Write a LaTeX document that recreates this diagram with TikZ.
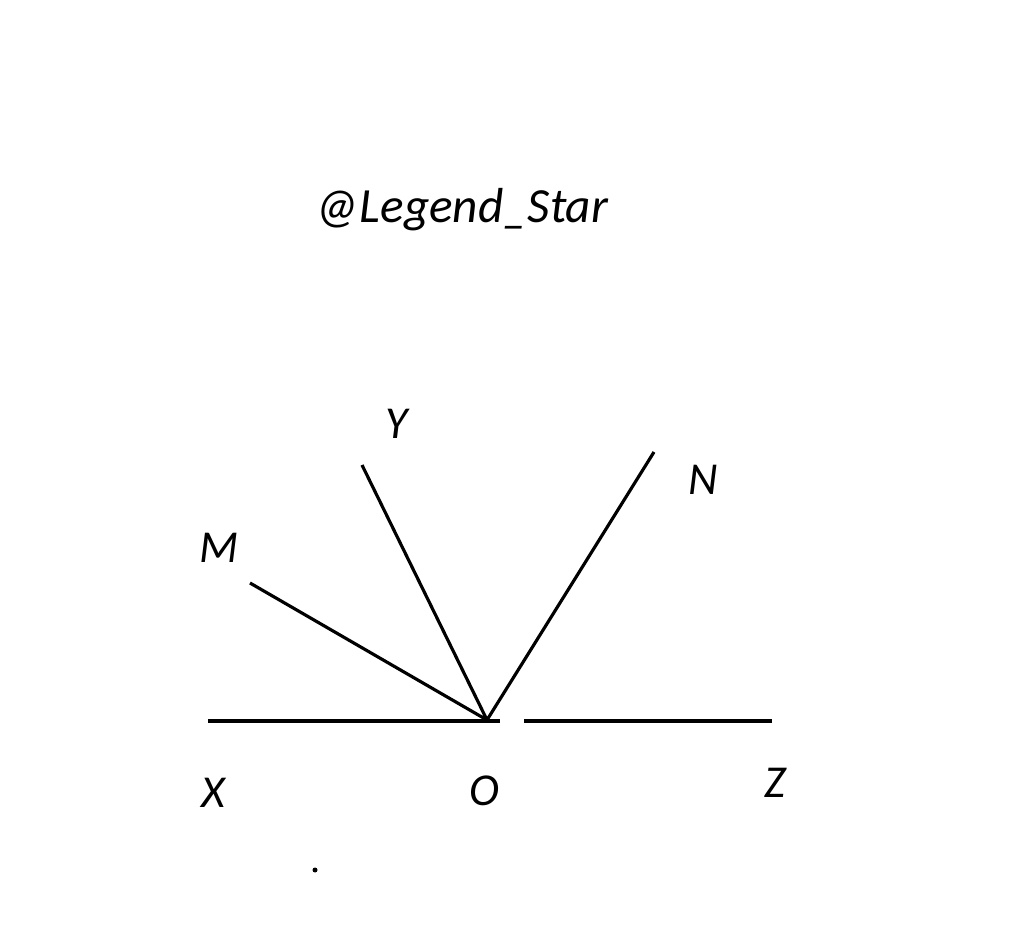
\documentclass[tikz,border=0pt]{standalone}
\usepackage{fontspec}
\setmainfont{Carlito}
\begin{document}
\begin{tikzpicture}[x=0.02cm, y=0.02cm, ray/.style={draw, line width=1.8pt},
  base/.style={draw, line width=2.1pt},
  every node/.style = {font=\fontsize{26}{30}\selectfont\itshape, inner sep=0pt}]
  \useasboundingbox (0,0) rectangle (1024,940);
  \coordinate (O) at (487,220);
  \coordinate (Xe) at (208,219);
  \coordinate (Ze) at (772,219);
  \coordinate (g1) at (500,219);
  \coordinate (g2) at (524,219);
  \coordinate (Me) at (250,357);
  \coordinate (Ye) at (362,475);
  \coordinate (Ne) at (654,488);
  \node (title) at (462,730) {\fontsize{28}{32}\selectfont @Legend\_Star};
  \node (lY) at (397,516) {Y};
  \node (lN) at (703,460) {N};
  \node (lM) at (219,392) {M};
  \node (lX) at (213,147) {X};
  \node (lO) at (484,149) {O};
  \node (lZ) at (775,157) {Z};
  \draw[base] (Xe) -- (g1) (g2) -- (Ze);
  \draw[ray] (O) -- (Me) (O) -- (Ye) (O) -- (Ne);
  \fill (315,70) circle (2.5);
\end{tikzpicture}
\end{document}
